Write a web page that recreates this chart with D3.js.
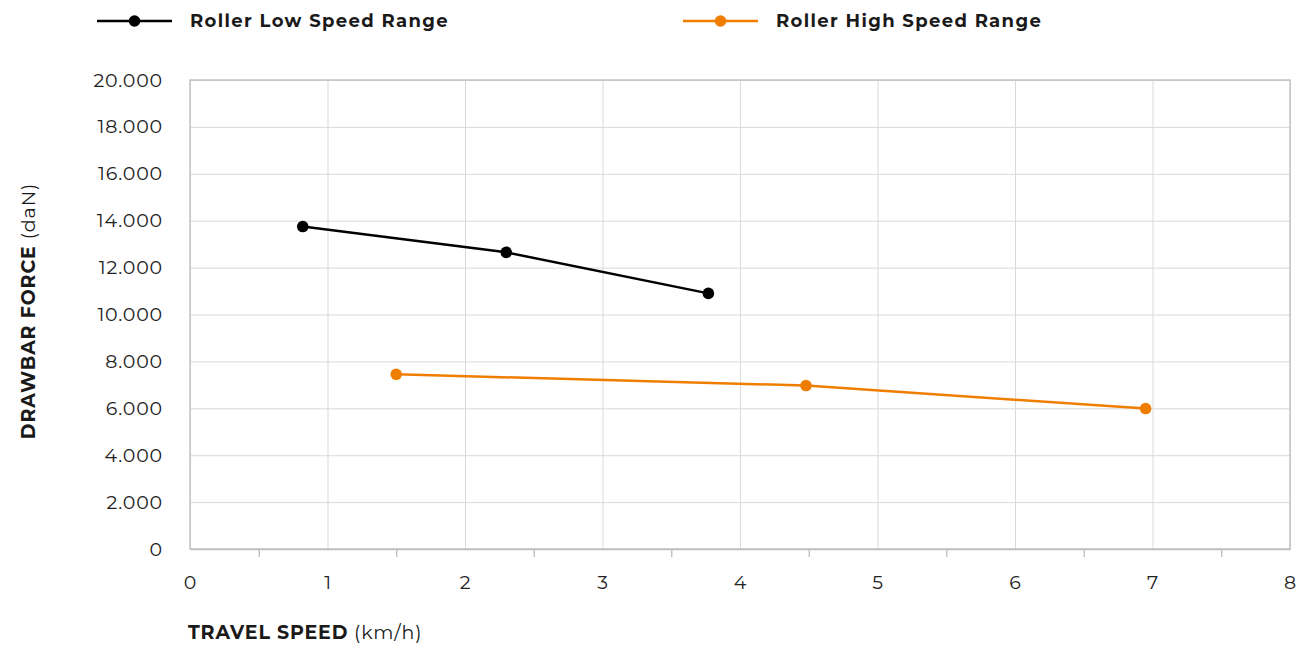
<!DOCTYPE html>
<html>
<head>
<meta charset="utf-8">
<script src="https://cdn.jsdelivr.net/npm/d3@7"></script>
<style>
  body { margin: 0; background: #fff; }
  svg text { font-family: Montserrat, "Open Sans", sans-serif; fill: #1a1a1a; }
  .tick text { font-size: 19px; letter-spacing: 0.8px; fill: #222; }
  .grid line { stroke: #d9d9d9; }
  .grid .domain { display: none; }
</style>
</head>
<body>
<div id="chart"></div>
<script>
const seriesNames = ["Roller Low Speed Range", "Roller High Speed Range"];
const seriesColors = ["#000000", "#ef7d00"];
const lowSpeed = [[0.82, 13750], [2.3, 12650], [3.77, 10900]];
const highSpeed = [[1.5, 7450], [4.48, 6970], [6.95, 5990]];
const xTicks = [0, 1, 2, 3, 4, 5, 6, 7, 8];
const yTicks = [0, 2000, 4000, 6000, 8000, 10000, 12000, 14000, 16000, 18000, 20000];

const W = 1302, H = 645;
const margin = { top: 80, right: 12, bottom: 96, left: 190 };
const width = W - margin.left - margin.right;
const height = H - margin.top - margin.bottom;

const svg = d3.select("#chart").append("svg")
    .attr("width", W)
    .attr("height", H);

const g = svg.append("g")
    .attr("transform", `translate(${margin.left},${margin.top})`);

const x = d3.scaleLinear().domain([0, 8]).range([0, width]);
const y = d3.scaleLinear().domain([0, 20000]).range([height, 0]);

// thousands with a dot, like the original
const fmtY = d => d === 0 ? "0" : d3.format(",")(d).replace(/,/g, ".");

// gridlines
g.append("g").attr("class", "grid")
    .call(d3.axisLeft(y).tickValues(yTicks).tickSize(-width).tickFormat(""));
g.append("g").attr("class", "grid")
    .call(d3.axisBottom(x).tickValues(xTicks).tickSize(height).tickFormat(""));

// frame
g.append("rect")
    .attr("width", width).attr("height", height)
    .attr("fill", "none").attr("stroke", "#bdbdbd").attr("stroke-width", 1.3);

// y labels
const yAxis = g.append("g")
    .call(d3.axisLeft(y).tickValues(yTicks).tickSize(0).tickPadding(27).tickFormat(fmtY));
yAxis.select(".domain").remove();

// x labels
const xAxis = g.append("g")
    .attr("transform", `translate(0,${height})`)
    .call(d3.axisBottom(x).tickValues(xTicks).tickSize(0).tickPadding(27));
xAxis.select(".domain").attr("stroke", "#bdbdbd").attr("stroke-width", 1.3);

// small ticks sit between the integers
g.append("g")
    .attr("transform", `translate(0,${height})`)
    .call(d3.axisBottom(x).tickValues(d3.range(0.5, 8, 1)).tickSize(8).tickFormat(""))
    .call(a => a.select(".domain").remove())
    .call(a => a.selectAll("line").attr("stroke", "#bdbdbd").attr("stroke-width", 1.3));

// lines
const line = d3.line().x(d => x(d[0])).y(d => y(d[1]));
[lowSpeed, highSpeed].forEach((data, i) => {
    g.append("path")
        .datum(data)
        .attr("fill", "none")
        .attr("stroke", seriesColors[i])
        .attr("stroke-width", 2.5)
        .attr("d", line);
    g.selectAll(null)
        .data(data)
        .enter().append("circle")
        .attr("cx", d => x(d[0]))
        .attr("cy", d => y(d[1]))
        .attr("r", 5.8)
        .attr("fill", seriesColors[i]);
});

// legend
const legendX = [97, 683];
seriesNames.forEach((name, i) => {
    const lg = svg.append("g").attr("transform", `translate(${legendX[i]},21)`);
    lg.append("line").attr("x1", 0).attr("x2", 75)
        .attr("stroke", seriesColors[i]).attr("stroke-width", 2.5);
    lg.append("circle").attr("cx", 37.5).attr("r", 5.8).attr("fill", seriesColors[i]);
    lg.append("text").attr("x", 93).attr("dy", "0.35em")
        .style("font-size", "18px").style("font-weight", 700)
        .style("letter-spacing", "1.35px")
        .text(name);
});

// axis titles
const xt = svg.append("text")
    .attr("x", 188).attr("y", 639)
    .style("font-size", "19px").style("letter-spacing", "0.85px");
xt.append("tspan").style("font-weight", 700).text("TRAVEL SPEED");
xt.append("tspan").text(" (km/h)");

const yt = svg.append("text")
    .attr("transform", "translate(35,311) rotate(-90)")
    .attr("text-anchor", "middle")
    .style("font-size", "19px").style("letter-spacing", "0.9px");
yt.append("tspan").style("font-weight", 700).text("DRAWBAR FORCE");
yt.append("tspan").text(" (daN)");
</script>
</body>
</html>
